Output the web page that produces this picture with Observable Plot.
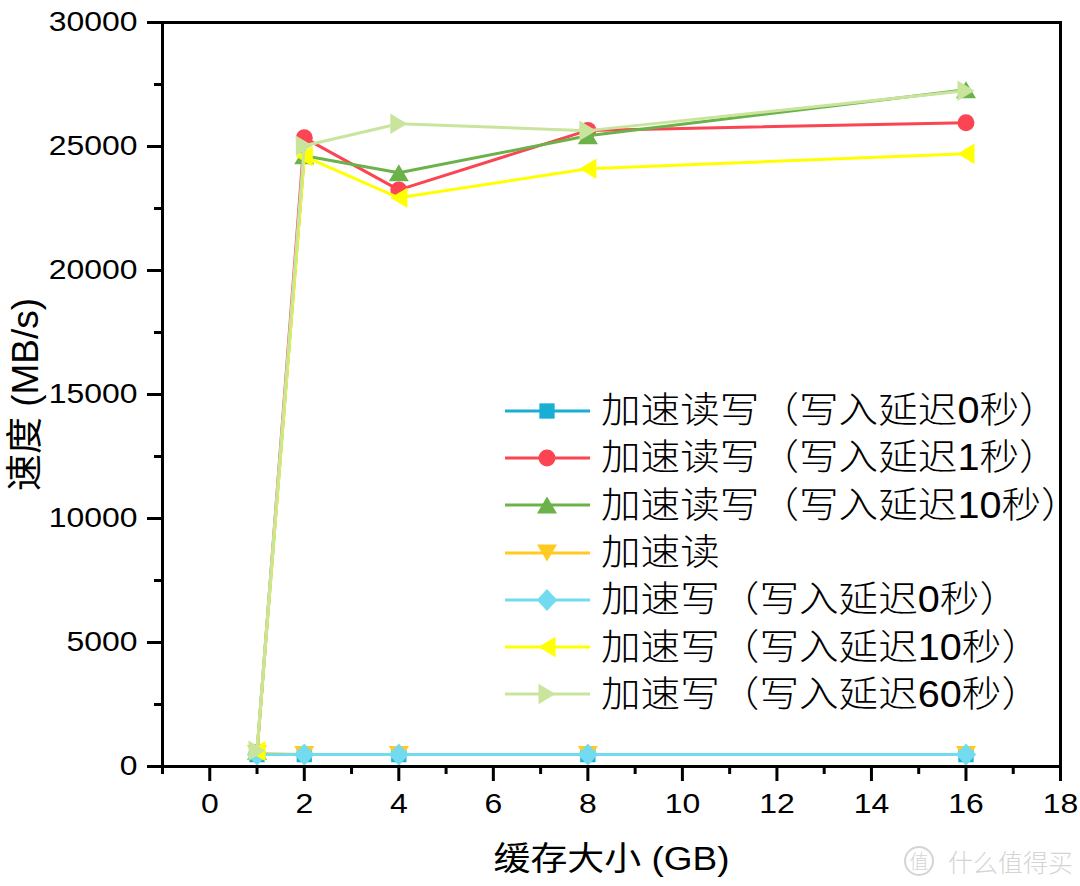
<!DOCTYPE html>
<html>
<head>
<meta charset="utf-8">
<script src="https://cdn.jsdelivr.net/npm/d3@7"></script>
<script src="https://cdn.jsdelivr.net/npm/@observablehq/plot@0.6"></script>
<style>
  html, body { margin: 0; padding: 0; background: #fff; }
  #wrap { position: relative; width: 1080px; height: 886px; overflow: hidden;
          font-family: "Liberation Sans", "Noto Sans CJK SC", sans-serif; }
  #wrap svg.plot { position: absolute; left: 0; top: 0; }
  #legend { position: absolute; left: 505px; top: 387px; }
  .row { display: flex; align-items: center; height: 47.3px; }
  .row svg { flex: none; }
  .row span { font-size: 36px; color: #000; margin-left: 10px; white-space: nowrap; display: inline-block;
              transform: scaleX(1.1); transform-origin: left center; font-weight: 300;
              font-family: "Liberation Sans", "Noto Sans CJK SC", sans-serif; line-height: 47px; }
  #wm { position: absolute; left: 904px; top: 843px; color: #d4d4d4; font-size: 25px;
        font-family: "Noto Sans CJK SC", sans-serif; font-weight: 300; display: flex; align-items: center; }
  #wm .c { display: inline-block; width: 26px; height: 26px; border: 2px solid #d4d4d4; border-radius: 50%;
           font-size: 19px; line-height: 26px; text-align: center; margin-right: 14px; }
</style>
</head>
<body>
<div id="wrap"></div>
<script>
// ---- data ----
const cacheSizes = [1, 2, 4, 8, 16];
const seriesNames = [
  "加速读写（写入延迟0秒）",
  "加速读写（写入延迟1秒）",
  "加速读写（写入延迟10秒）",
  "加速读",
  "加速写（写入延迟0秒）",
  "加速写（写入延迟10秒）",
  "加速写（写入延迟60秒）"
];
const rwDelay0  = [480, 480, 480, 480, 480];
const rwDelay1  = [560, 25350, 23250, 25650, 25960];
const rwDelay10 = [600, 24630, 23940, 25430, 27290];
const readOnly  = [520, 480, 480, 480, 480];
const wDelay0   = [480, 480, 480, 480, 480];
const wDelay10  = [620, 24600, 22930, 24100, 24710];
const wDelay60  = [640, 25030, 25920, 25640, 27250];
const seriesValues = [rwDelay0, rwDelay1, rwDelay10, readOnly, wDelay0, wDelay10, wDelay60];
const seriesColors = ["#19afd5", "#fb4552", "#6cb24a", "#ffcb22", "#72dbef", "#ffff00", "#c9e59d"];
const xMajorTicks = [0, 2, 4, 6, 8, 10, 12, 14, 16, 18];
const xMinorTicks = [-1, 1, 3, 5, 7, 9, 11, 13, 15, 17];
const yMajorTicks = [0, 5000, 10000, 15000, 20000, 25000, 30000];
const yMinorTicks = [2500, 7500, 12500, 17500, 22500, 27500];
const xTitle = "缓存大小 (GB)";
const yTitle = "速度 (MB/s)";

// ---- custom marker symbols ----
function rOf(size) { return Math.sqrt(size / Math.PI); }
const symSquare = { draw(ctx, size) { const s = rOf(size) * 0.9; ctx.moveTo(-s, -s); ctx.lineTo(s, -s); ctx.lineTo(s, s); ctx.lineTo(-s, s); ctx.closePath(); } };
const symCircle = { draw(ctx, size) { const r = rOf(size); ctx.moveTo(r, 0); ctx.arc(0, 0, r, 0, 2 * Math.PI); } };
const symUp = { draw(ctx, size) { const h = rOf(size), w = h * 1.18; ctx.moveTo(0, -h); ctx.lineTo(w, h); ctx.lineTo(-w, h); ctx.closePath(); } };
const symDown = { draw(ctx, size) { const h = rOf(size), w = h * 1.18; ctx.moveTo(0, h); ctx.lineTo(w, -h); ctx.lineTo(-w, -h); ctx.closePath(); } };
const symDiamond = { draw(ctx, size) { const r = rOf(size); const a = r * 1.2, b = r * 1.3; ctx.moveTo(0, -b); ctx.lineTo(a, 0); ctx.lineTo(0, b); ctx.lineTo(-a, 0); ctx.closePath(); } };
const symLeft = { draw(ctx, size) { const h = rOf(size), w = h * 1.2; ctx.moveTo(-h, 0); ctx.lineTo(h, -w); ctx.lineTo(h, w); ctx.closePath(); } };
const symRight = { draw(ctx, size) { const h = rOf(size), w = h * 1.2; ctx.moveTo(h, 0); ctx.lineTo(-h, -w); ctx.lineTo(-h, w); ctx.closePath(); } };
const seriesSymbols = [symSquare, symCircle, symUp, symDown, symDiamond, symLeft, symRight];
const R = 8.5;

// ---- build table ----
const tables = seriesNames.map((name, i) =>
  cacheSizes.map((x, j) => ({ series: name, x, y: seriesValues[i][j] })));

const seriesMarks = [];
tables.forEach((t, i) => {
  seriesMarks.push(Plot.line(t, { x: "x", y: "y", stroke: seriesColors[i], strokeWidth: 3 }));
  seriesMarks.push(Plot.dot(t, { x: "x", y: "y", symbol: seriesSymbols[i], r: R, fill: seriesColors[i], stroke: "none" }));
});

const fmt = d => String(d);
const chart = Plot.plot({
  width: 1080,
  height: 886,
  marginLeft: 162,
  marginRight: 20,
  marginTop: 22,
  marginBottom: 120,
  style: { fontFamily: '"Liberation Sans", "Noto Sans CJK SC", sans-serif', fontSize: "28px", color: "#000", background: "#fff" },
  x: { domain: [-1, 18] },
  y: { domain: [0, 30000] },
  marks: [
    ...seriesMarks,
    Plot.axisX({ ticks: xMajorTicks, tickSize: 15, tickPadding: 12, strokeWidth: 3, tickFormat: fmt, fontSize: 28, label: null }),
    Plot.axisX({ ticks: xMinorTicks, tickSize: 8, strokeWidth: 3, tickFormat: () => "", label: null }),
    Plot.axisY({ ticks: yMajorTicks, tickSize: 15, tickPadding: 10, strokeWidth: 3, tickFormat: fmt, fontSize: 28, label: null }),
    Plot.axisY({ ticks: yMinorTicks, tickSize: 8, strokeWidth: 3, tickFormat: () => "", label: null }),
    Plot.frame({ stroke: "#000", strokeWidth: 3 }),
    Plot.text([xTitle], { text: d => d, frameAnchor: "bottom", textAnchor: "middle", dy: 93, fontSize: 33, lineAnchor: "middle", fill: "#000" }),
    Plot.text([yTitle], { text: d => d, frameAnchor: "left", textAnchor: "middle", dx: -136, rotate: -90, fontSize: 37, lineAnchor: "middle", fill: "#000" })
  ]
});
const wrap = document.getElementById("wrap");
chart.classList.add("plot");
wrap.appendChild(chart);

// horizontal stretch of the tick labels and x title, as in the reference
function stretch(el, k) {
  const t = el.getAttribute("transform");
  if (t) el.setAttribute("transform", t + ` scale(${k},1)`);
}
d3.select(chart).selectAll("g[aria-label$='tick label'] text").each(function () { stretch(this, 1.14); });
d3.select(chart).selectAll("text").filter(function () { return this.textContent === xTitle; }).each(function () { stretch(this, 1.12); });

// ---- legend ----
const legend = document.createElement("div");
legend.id = "legend";
const pathFor = (sym, size) => { const p = d3.path(); sym.draw(p, size); return p.toString(); };
seriesNames.forEach((name, i) => {
  const row = document.createElement("div");
  row.className = "row";
  row.innerHTML =
    `<svg width="86" height="30" viewBox="0 0 86 30">
       <line x1="0" x2="85" y1="15" y2="15" stroke="${seriesColors[i]}" stroke-width="3"/>
       <path transform="translate(42,15)" d="${pathFor(seriesSymbols[i], Math.PI * R * R)}" fill="${seriesColors[i]}"/>
     </svg><span>${name}</span>`;
  legend.appendChild(row);
});
wrap.appendChild(legend);

// ---- watermark ----
const wm = document.createElement("div");
wm.id = "wm";
wm.innerHTML = `<span class="c">值</span><span>什么值得买</span>`;
wrap.appendChild(wm);
</script>
</body>
</html>
